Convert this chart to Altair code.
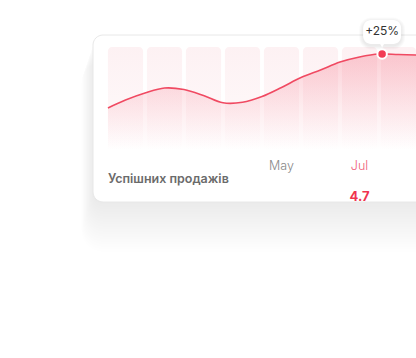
import altair as alt
import pandas as pd

# ---------------- data ----------------
month_pos = [1, 2, 3, 4, 5, 6, 7, 8]
month_names = ["Jan", "Feb", "Mar", "Apr", "May", "Jun", "Jul", "Aug"]
tick_labels = ["May", "Jul"]
tick_pos = [5, 7]
tick_colors = ["#8a8a8a", "#f0607a"]
curve_x = [0.55, 1.0, 1.5, 2.0, 2.5, 3.0, 3.5, 4.0, 4.5, 5.0, 5.5, 6.0, 6.5, 7.0, 7.5, 8.0, 8.5]
curve_y = [40.8, 48.5, 55.3, 60.2, 58.7, 52.9, 45.8, 46.3, 51.9, 60.7, 70.4, 77.7, 85.4, 90.3, 93.2, 92.7, 92.2]
peak_x = [7.58]
peak_y = [93.3]
peak_label = ["+25%"]
highlight_month = [7]
highlight_value = ["4.7"]
title_text = "Успішних продажів"

# ---------------- tables ----------------
cols = pd.DataFrame({"m": month_pos, "name": month_names})
curve = pd.DataFrame({"m": curve_x, "v": curve_y})
peak = pd.DataFrame({"m": peak_x, "v": peak_y, "label": peak_label})
ticks = pd.DataFrame({"m": tick_pos, "label": tick_labels, "c": tick_colors})
hl = pd.DataFrame({"m": highlight_month, "label": highlight_value})
one = pd.DataFrame({"k": [0]})

W, H = 416, 358
XS = alt.Scale(domain=[-86.5 / 39, (416 - 86.5) / 39], nice=False, zero=False)
YS = alt.Scale(domain=[0, 100], range=[150, 47], nice=False, zero=False)
RED = "#f04a62"
FONT = "Inter"

layers = []

# card shadow (soft, mostly downward)
CX0, CX1, CY0, CY1 = 93, 470, 35, 202
for i in range(1, 21):
    s = 0.6 * i
    d = 1.9 * i
    layers.append(
        alt.Chart(one).mark_rect(cornerRadius=10 + s, color="#000000", opacity=0.0055).encode(
            x=alt.value(CX0 - s), x2=alt.value(CX1 + s),
            y=alt.value(CY0 - s + d), y2=alt.value(CY1 + s + d))
    )

# card
layers.append(
    alt.Chart(one).mark_rect(cornerRadius=10, fill="#ffffff", stroke="#e8e8e8", strokeWidth=1).encode(
        x=alt.value(CX0), x2=alt.value(CX1), y=alt.value(CY0), y2=alt.value(CY1))
)

# month columns
col_grad = alt.Gradient(
    gradient="linear",
    stops=[alt.GradientStop(color="#fdf1f3", offset=0),
           alt.GradientStop(color="#fef7f8", offset=0.6),
           alt.GradientStop(color="#ffffff", offset=1)],
    x1=0, x2=0, y1=0, y2=1)
layers.append(
    alt.Chart(cols).transform_calculate(a="datum.m - 0.45", b="datum.m + 0.45")
    .mark_rect(color=col_grad, cornerRadius=4)
    .encode(x=alt.X("a:Q", scale=XS, axis=None), x2="b:Q",
            y=alt.Y(datum=100, scale=YS, axis=None), y2=alt.Y2(datum=0))
)

# area under the curve
area_grad = alt.Gradient(
    gradient="linear",
    stops=[alt.GradientStop(color="rgba(242,70,95,0.26)", offset=0),
           alt.GradientStop(color="rgba(242,70,95,0.10)", offset=0.55),
           alt.GradientStop(color="rgba(242,70,95,0.0)", offset=1)],
    x1=0, x2=0, y1=0, y2=1)
layers.append(
    alt.Chart(curve).mark_area(interpolate="catmull-rom", color=area_grad)
    .encode(x=alt.X("m:Q", scale=XS, axis=None),
            y=alt.Y("v:Q", scale=YS, axis=None), y2=alt.Y2(datum=0))
)
# line
layers.append(
    alt.Chart(curve).mark_line(interpolate="catmull-rom", color=RED, strokeWidth=1.6)
    .encode(x=alt.X("m:Q", scale=XS, axis=None), y=alt.Y("v:Q", scale=YS, axis=None))
)

# title
layers.append(
    alt.Chart(one).mark_text(text=title_text, font=FONT, fontSize=12.5, fontWeight=600,
                             color="#6b6b6b", align="left", baseline="alphabetic")
    .encode(x=alt.value(108), y=alt.value(182.5))
)
# month tick labels
layers.append(
    alt.Chart(ticks).mark_text(font=FONT, fontSize=12.5, fontWeight=300, baseline="alphabetic")
    .encode(x=alt.X("m:Q", scale=XS, axis=None), y=alt.value(170),
            text="label:N", color=alt.Color("c:N", scale=None))
)
# highlighted value
layers.append(
    alt.Chart(hl).mark_text(font=FONT, fontSize=13, fontWeight=700, color="#f0344f",
                            baseline="alphabetic")
    .encode(x=alt.X("m:Q", scale=XS, axis=None), y=alt.value(201), text="label:N")
)

# tooltip shadow
for i in range(1, 5):
    layers.append(
        alt.Chart(peak).mark_rect(cornerRadius=8 + i, color="#000000", opacity=0.02,
                                  xOffset=-19 - i, x2Offset=19 + i,
                                  yOffset=-34 - i + 1.5, y2Offset=-10 + i + 1.5)
        .encode(x=alt.X("m:Q", scale=XS, axis=None), x2="m:Q",
                y=alt.Y("v:Q", scale=YS, axis=None), y2="v:Q")
    )
# tooltip box
layers.append(
    alt.Chart(peak).mark_rect(cornerRadius=8, color="#ffffff",
                              xOffset=-19, x2Offset=19, yOffset=-34, y2Offset=-10)
    .encode(x=alt.X("m:Q", scale=XS, axis=None), x2="m:Q",
            y=alt.Y("v:Q", scale=YS, axis=None), y2="v:Q")
)
layers.append(
    alt.Chart(peak).mark_point(shape="triangle-down", filled=True, color="#ffffff",
                               opacity=1, size=22, yOffset=-8.5)
    .encode(x=alt.X("m:Q", scale=XS, axis=None), y=alt.Y("v:Q", scale=YS, axis=None))
)
layers.append(
    alt.Chart(peak).mark_text(font=FONT, fontSize=12, fontWeight=400, color="#333333",
                              baseline="middle", dy=-22.5)
    .encode(x=alt.X("m:Q", scale=XS, axis=None), y=alt.Y("v:Q", scale=YS, axis=None),
            text="label:N")
)
# peak point
layers.append(
    alt.Chart(peak).mark_point(shape="circle", filled=True, fill="#f23c55", stroke="#ffffff",
                               strokeWidth=2, opacity=1, strokeOpacity=1, size=90)
    .encode(x=alt.X("m:Q", scale=XS, axis=None), y=alt.Y("v:Q", scale=YS, axis=None))
)

chart = alt.layer(*layers).properties(
    width=W, height=H, background="#ffffff", padding=0,
    autosize=alt.AutoSizeParams(type="none")
).configure_view(stroke=None)

chart.save("out.html", embed_options={"renderer": "svg", "actions": False})
